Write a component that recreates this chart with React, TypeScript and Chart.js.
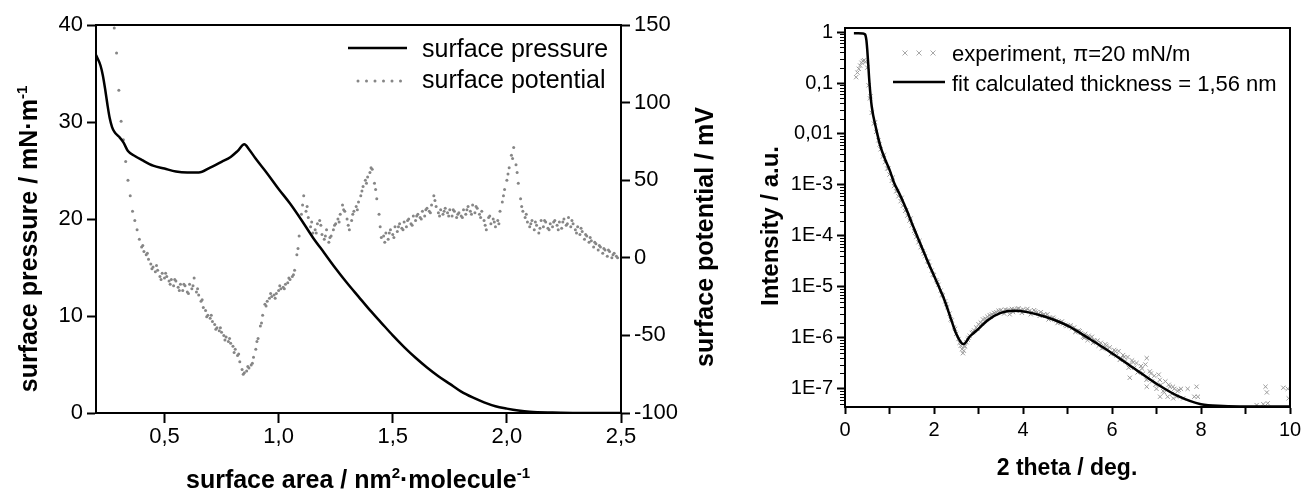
import React, { useEffect, useRef } from "react";
import { Chart, registerables } from "chart.js";

Chart.register(...registerables);

const FONT = "'Liberation Sans', Arial, Helvetica, sans-serif";

// ---------------- Left chart: isotherm ----------------
const pressureArea = [
  0.2, 0.22, 0.23, 0.24, 0.25, 0.26, 0.27, 0.28, 0.3, 0.32, 0.34, 0.37, 0.4,
  0.45, 0.5, 0.55, 0.6, 0.65, 0.7, 0.75, 0.79, 0.82, 0.85, 0.87, 0.9, 0.95,
  1.0, 1.05, 1.1, 1.15, 1.2, 1.25, 1.3, 1.35, 1.4, 1.45, 1.5,
  1.55, 1.6, 1.65, 1.7, 1.75, 1.8, 1.85, 1.9, 1.95, 2.0, 2.05, 2.1,
  2.2, 2.3, 2.4, 2.5,
];
const pressurePi = [
  36.9, 35.8, 34.8, 33.4, 31.8, 30.4, 29.5, 29.0, 28.5, 27.9, 27.0, 26.5, 26.1,
  25.5, 25.2, 24.9, 24.8, 24.8, 25.3, 25.9, 26.4, 27.0, 27.7, 27.2, 26.2, 24.7,
  23.1, 21.6, 19.9, 18.1, 16.5, 14.9, 13.4, 12.0, 10.6, 9.3, 8.0,
  6.8, 5.7, 4.7, 3.8, 3.0, 2.2, 1.6, 1.1, 0.7, 0.45, 0.25, 0.12,
  0.04, 0.01, 0, 0,
];

const potentialArea = [
  0.28, 0.29, 0.3, 0.31, 0.32, 0.33, 0.34, 0.35, 0.36, 0.37,
  0.38, 0.39, 0.4, 0.41, 0.42, 0.43, 0.44, 0.45, 0.46, 0.47,
  0.48, 0.49, 0.5, 0.51, 0.52, 0.53, 0.54, 0.55, 0.56, 0.57,
  0.58, 0.59, 0.6, 0.61, 0.62, 0.63, 0.64, 0.65, 0.66, 0.67,
  0.68, 0.69, 0.7, 0.71, 0.72, 0.73, 0.74, 0.75, 0.76, 0.77,
  0.78, 0.79, 0.8, 0.81, 0.82, 0.83, 0.84, 0.85, 0.86, 0.87,
  0.88, 0.89, 0.9, 0.91, 0.92, 0.93, 0.94, 0.95, 0.96, 0.97,
  0.98, 0.99, 1.0, 1.01, 1.02, 1.03, 1.04, 1.05, 1.06, 1.07,
  1.08, 1.09, 1.1, 1.11, 1.12, 1.13, 1.14, 1.15, 1.16, 1.17,
  1.18, 1.19, 1.2, 1.21, 1.22, 1.23, 1.24, 1.25, 1.26, 1.27,
  1.28, 1.29, 1.3, 1.31, 1.32, 1.33, 1.34, 1.35, 1.36, 1.37,
  1.38, 1.39, 1.4, 1.41, 1.42, 1.43, 1.44, 1.45, 1.46, 1.47,
  1.48, 1.49, 1.5, 1.51, 1.52, 1.53, 1.54, 1.55, 1.56, 1.57,
  1.58, 1.59, 1.6, 1.61, 1.62, 1.63, 1.64, 1.65, 1.66, 1.67,
  1.68, 1.69, 1.7, 1.71, 1.72, 1.73, 1.74, 1.75, 1.76, 1.77,
  1.78, 1.79, 1.8, 1.81, 1.82, 1.83, 1.84, 1.85, 1.86, 1.87,
  1.88, 1.89, 1.9, 1.91, 1.92, 1.93, 1.94, 1.95, 1.96, 1.97,
  1.98, 1.99, 2.0, 2.01, 2.02, 2.03, 2.04, 2.05, 2.06, 2.07,
  2.08, 2.09, 2.1, 2.11, 2.12, 2.13, 2.14, 2.15, 2.16, 2.17,
  2.18, 2.19, 2.2, 2.21, 2.22, 2.23, 2.24, 2.25, 2.26, 2.27,
  2.28, 2.29, 2.3, 2.31, 2.32, 2.33, 2.34, 2.35, 2.36, 2.37,
  2.38, 2.39, 2.4, 2.41, 2.42, 2.43, 2.44, 2.45, 2.46, 2.47, 2.48,
];
const potentialMV = [
  148, 132, 108, 88, 76, 62, 50, 40, 30, 24,
  18, 12, 7, 4, 2, -1, -4, -6, -9, -8,
  -12, -10, -13, -12, -15, -14, -18, -15, -19, -17,
  -21, -18, -22, -17, -20, -13, -22, -24, -28, -32,
  -34, -37, -39, -41, -43, -45, -47, -48, -50, -51,
  -54, -55, -57, -59, -63, -67, -72, -74, -73, -71,
  -69, -64, -59, -52, -44, -37, -30, -28, -26, -25,
  -24, -23, -21, -20, -19, -17, -16, -14, -12, -8,
  2, 14, 28, 40, 30, 26, 20, 16, 18, 22,
  24, 15, 12, 18, 10, 14, 18, 22, 25, 28,
  34, 30, 25, 18, 24, 30, 33, 36, 40, 46,
  50, 52, 55, 57, 48, 38, 28, 13, 14, 16,
  12, 18, 15, 20, 17, 22, 19, 23, 20, 25,
  22, 27, 24, 28, 26, 30, 27, 32, 30, 34,
  40, 33, 29, 31, 28, 32, 29, 31, 27, 30,
  26, 29, 27, 31, 28, 33, 30, 34, 29, 32,
  28, 30, 24, 18, 26, 22, 25, 20, 24, 30,
  36, 44, 50, 58, 66, 71, 60, 48, 38, 30,
  26, 23, 20, 24, 18, 21, 16, 24, 20, 23,
  19, 22, 20, 24, 21, 23, 19, 25, 21, 26,
  20, 22, 18, 20, 15, 17, 12, 14, 10, 11,
  7, 9, 5, 7, 3, 5, 1, 4, 0, 3, 1,
];
// second pass of potential readings (between the first ones)
const potentialArea2 = [
  0.405, 0.425, 0.445, 0.465, 0.485, 0.505, 0.525, 0.545, 0.565, 0.585,
  0.605, 0.625, 0.645, 0.665, 0.685, 0.705, 0.725, 0.745, 0.765, 0.785,
  0.805, 0.825, 0.845, 0.865, 0.885, 0.905, 0.925, 0.945, 0.965, 0.985,
  1.005, 1.025, 1.045, 1.065, 1.085, 1.105, 1.125, 1.145, 1.165, 1.185,
  1.205, 1.225, 1.245, 1.265, 1.285, 1.305, 1.325, 1.345, 1.365, 1.385,
  1.405, 1.425, 1.445, 1.465, 1.485, 1.505, 1.525, 1.545, 1.565, 1.585,
  1.605, 1.625, 1.645, 1.665, 1.685, 1.705, 1.725, 1.745, 1.765, 1.785,
  1.805, 1.825, 1.845, 1.865, 1.885, 1.905, 1.925, 1.945, 1.965, 1.985,
  2.005, 2.025, 2.045, 2.065, 2.085, 2.105, 2.125, 2.145, 2.165, 2.185,
  2.205, 2.225, 2.245, 2.265, 2.285, 2.305, 2.325, 2.345, 2.365, 2.385,
  2.405, 2.425, 2.445, 2.465, 2.485,
];
const potentialMV2 = [
  8, 3, -7, -5, -14, -10, -17, -14, -21, -17,
  -23, -18, -20, -27, -38, -37, -46, -45, -53, -52,
  -61, -62, -75, -70, -68, -54, -42, -31, -23, -26,
  -18, -20, -13, -11, 6, 34, 33, 23, 16, 21,
  14, 13, 21, 23, 31, 21, 28, 31, 43, 48,
  58, 44, 20, 10, 16, 13, 20, 18, 24, 21,
  27, 25, 31, 29, 37, 27, 30, 27, 31, 28,
  26, 31, 28, 33, 26, 21, 27, 23, 22, 40,
  54, 64, 55, 33, 28, 22, 23, 19, 24, 18,
  23, 18, 23, 22, 24, 16, 19, 15, 13, 10,
  8, 6, 5, 2, 0,
];

const areaTickValues = [0.5, 1.0, 1.5, 2.0, 2.5];
const areaTickLabels = ["0,5", "1,0", "1,5", "2,0", "2,5"];
const pressureTickValues = [0, 10, 20, 30, 40];
const potentialTickValues = [-100, -50, 0, 50, 100, 150];

// ---------------- Right chart: reflectivity ----------------
const fitAngle = [
  0.2, 0.3, 0.4, 0.45, 0.48, 0.5, 0.52, 0.55, 0.6, 0.7, 0.8, 0.9, 1.0,
  1.1, 1.2, 1.3, 1.4, 1.5, 1.6, 1.7, 1.8, 1.9, 2.0, 2.1, 2.2, 2.3, 2.4,
  2.5, 2.6, 2.65, 2.7, 2.8, 2.9, 3.0, 3.2, 3.5, 3.8, 4.1, 4.5, 5.0, 5.5,
  6.0, 6.5, 7.0, 7.5, 8.0, 8.5, 9.0, 10.0,
];
const fitIntensity = [
  0.95, 0.95, 0.94, 0.9, 0.7, 0.45, 0.25, 0.1, 0.035, 0.0126, 0.0056, 0.0032, 0.002,
  1.12e-3, 7.4e-4, 4.8e-4, 3.0e-4, 1.8e-4, 1.1e-4, 6.8e-5, 4.2e-5, 2.6e-5, 1.66e-5, 1.05e-5, 6.6e-6, 3.8e-6, 2.1e-6,
  1.2e-6, 8.3e-7, 7.6e-7, 7.9e-7, 1.05e-6, 1.26e-6, 1.5e-6, 2.2e-6, 3.1e-6, 3.4e-6, 3.2e-6, 2.6e-6, 1.74e-6, 9.5e-7,
  5.0e-7, 2.5e-7, 1.26e-7, 7.1e-8, 5.0e-8, 4.6e-8, 4.5e-8, 4.5e-8,
];

const expAngle = [
  0.25, 0.28, 0.31, 0.34, 0.37, 0.4, 0.43, 0.46, 0.5, 0.53, 0.56, 0.6,
  0.65, 0.7, 0.75, 0.8, 0.85, 0.9, 0.95, 1.0, 1.05, 1.1, 1.15, 1.2,
  1.25, 1.3, 1.35, 1.4, 1.45, 1.5, 1.55, 1.6, 1.65, 1.7, 1.75, 1.8,
  1.85, 1.9, 1.95, 2.0, 2.05, 2.1, 2.15, 2.2, 2.25, 2.3, 2.35, 2.4,
  2.45, 2.5, 2.55, 2.6, 2.63, 2.65, 2.67, 2.7, 2.73, 2.76, 2.8, 2.85,
  2.9, 2.95, 3.0, 3.05, 3.1, 3.15, 3.2, 3.25, 3.3, 3.35, 3.4, 3.45,
  3.5, 3.55, 3.6, 3.65, 3.7, 3.75, 3.8, 3.85, 3.9, 3.95, 4.0, 4.05,
  4.1, 4.15, 4.2, 4.25, 4.3, 4.35, 4.4, 4.45, 4.5, 4.55, 4.6, 4.65,
  4.7, 4.75, 4.8, 4.85, 4.9, 4.95, 5.0, 5.05, 5.1, 5.15, 5.2, 5.25,
  5.3, 5.35, 5.4, 5.45, 5.5, 5.55, 5.6, 5.65, 5.7, 5.75, 5.8, 5.85,
  5.9, 5.95, 6.0, 6.05, 6.1, 6.15, 6.2, 6.25, 6.3, 6.35, 6.4, 6.45,
  6.5, 6.55, 6.6, 6.65, 6.7, 6.75, 6.8, 6.85, 6.9, 6.95, 7.0, 7.05,
  7.1, 7.15, 7.2, 7.25, 7.3, 7.35, 7.4, 7.45, 7.5, 7.55, 7.6, 7.7,
  7.85, 6.4, 6.78, 6.78, 7.08, 7.37, 7.9, 7.93,
  9.25, 9.4, 9.5, 9.45, 9.48, 9.85, 9.95, 9.97,
];
const expIntensity = [
  0.13, 0.16, 0.19, 0.22, 0.25, 0.27, 0.28, 0.26, 0.2, 0.09, 0.05, 0.026,
  0.016, 0.011, 0.0075, 0.005, 0.0036, 0.0028, 0.0021, 0.0016, 0.0012, 9.5e-4, 7.5e-4, 6.0e-4,
  4.8e-4, 3.9e-4, 3.1e-4, 2.5e-4, 2.0e-4, 1.6e-4, 1.25e-4, 9.5e-5, 7.5e-5, 6.0e-5, 5.0e-5, 4.0e-5,
  3.2e-5, 2.6e-5, 2.1e-5, 1.7e-5, 1.35e-5, 1.1e-5, 8.5e-6, 6.8e-6, 5.2e-6, 4.0e-6, 3.0e-6, 2.2e-6,
  1.6e-6, 1.2e-6, 9.5e-7, 7.0e-7, 6.0e-7, 5.0e-7, 5.6e-7, 6.8e-7, 8.2e-7, 9.2e-7, 1.1e-6, 1.25e-6,
  1.4e-6, 1.6e-6, 1.85e-6, 2.0e-6, 2.3e-6, 2.4e-6, 2.6e-6, 2.8e-6, 2.9e-6, 3.1e-6, 3.2e-6, 3.4e-6,
  3.5e-6, 3.3e-6, 3.6e-6, 3.5e-6, 2.9e-6, 3.7e-6, 3.6e-6, 3.4e-6, 3.8e-6, 3.5e-6, 3.6e-6, 3.3e-6,
  3.7e-6, 3.4e-6, 3.2e-6, 3.5e-6, 3.1e-6, 3.0e-6, 3.2e-6, 2.8e-6, 2.7e-6, 2.9e-6, 2.5e-6, 2.4e-6,
  2.3e-6, 2.2e-6, 2.1e-6, 2.0e-6, 1.9e-6, 1.8e-6, 1.75e-6, 1.7e-6, 1.55e-6, 1.6e-6, 1.35e-6, 1.4e-6,
  1.25e-6, 1.05e-6, 1.2e-6, 9.0e-7, 1.0e-6, 1.05e-6, 9.0e-7, 8.5e-7, 7.0e-7, 8.0e-7, 6.5e-7, 7.5e-7,
  6.0e-7, 6.5e-7, 5.0e-7, 5.8e-7, 4.5e-7, 5.5e-7, 4.0e-7, 4.6e-7, 3.5e-7, 4.2e-7, 3.0e-7, 3.6e-7,
  2.6e-7, 3.2e-7, 2.2e-7, 2.8e-7, 2.0e-7, 3.0e-7, 1.6e-7, 2.2e-7, 1.4e-7, 1.8e-7, 1.0e-7, 1.9e-7,
  1.2e-7, 9.0e-8, 1.4e-7, 7.0e-8, 1.1e-7, 8.0e-8, 1.0e-7, 7.0e-8, 9.5e-8, 1.0e-7, 6.5e-8, 1.0e-7,
  7.0e-8, 1.65e-7, 1.1e-7, 4.0e-7, 7.0e-8, 1.1e-7, 1.1e-7, 7.0e-8,
  4.8e-8, 5.0e-8, 5.2e-8, 1.1e-7, 8.5e-8, 1.05e-7, 1.0e-7, 6.5e-8,
];
// second pass of experimental readings (between the first ones)
const expAngle2 = [
  0.575, 0.675, 0.775, 0.875, 0.975, 1.075, 1.175, 1.275, 1.375, 1.475,
  1.575, 1.675, 1.775, 1.875, 1.975, 2.075, 2.175, 2.275, 2.375, 2.475,
  2.575, 2.675, 2.775, 2.875, 2.975, 3.075, 3.175, 3.275, 3.375, 3.475,
  3.575, 3.675, 3.775, 3.875, 3.975, 4.075, 4.175, 4.275, 4.375, 4.475,
  4.575, 4.675, 4.775, 4.875, 4.975, 5.075, 5.175, 5.275, 5.375, 5.475,
  5.575, 5.675, 5.775, 5.875, 5.975, 6.075, 6.175, 6.275, 6.375, 6.475,
  6.575, 6.675, 6.775, 6.875, 6.975, 7.075, 7.175, 7.275, 7.375, 7.475,
];
const expIntensity2 = [
  0.055, 0.017, 0.0062, 0.0039, 0.0021, 0.0014, 7.6e-4, 5.6e-4, 3.2e-4, 2.2e-4,
  1.15e-4, 8.0e-5, 4.5e-5, 3.1e-5, 1.75e-5, 1.25e-5, 7.0e-6, 4.6e-6, 2.3e-6, 1.5e-6,
  8.0e-7, 7.0e-7, 1.0e-6, 1.3e-6, 1.5e-6, 1.9e-6, 2.3e-6, 2.6e-6, 3.0e-6, 3.3e-6,
  3.0e-6, 3.5e-6, 3.2e-6, 3.7e-6, 3.1e-6, 3.5e-6, 2.9e-6, 3.3e-6, 2.7e-6, 2.9e-6,
  2.3e-6, 2.5e-6, 1.95e-6, 2.1e-6, 1.7e-6, 1.75e-6, 1.3e-6, 1.35e-6, 1.0e-6, 1.1e-6,
  8.0e-7, 8.8e-7, 6.2e-7, 7.0e-7, 4.8e-7, 5.4e-7, 3.7e-7, 4.2e-7, 2.6e-7, 3.3e-7,
  2.1e-7, 2.5e-7, 1.5e-7, 2.0e-7, 1.2e-7, 1.5e-7, 8.5e-8, 1.2e-7, 6.5e-8, 9.0e-8,
];

const angleTickValues = [0, 1, 2, 3, 4, 5, 6, 7, 8, 9, 10];
const angleTickLabels = ["0", "", "2", "", "4", "", "6", "", "8", "", "10"];
const intensityTickValues = [1e-7, 1e-6, 1e-5, 1e-4, 1e-3, 0.01, 0.1, 1];
const intensityTickLabels = ["1E-7", "1E-6", "1E-5", "1E-4", "1E-3", "0,01", "0,1", "1"];

// ---------------- helpers ----------------
type Part = { t: string; sup?: boolean };

function drawRich(
  ctx: CanvasRenderingContext2D,
  parts: Part[],
  x: number,
  y: number,
  size: number,
  weight: string,
  rotate: boolean
) {
  ctx.save();
  ctx.translate(x, y);
  if (rotate) ctx.rotate(-Math.PI / 2);
  const main = `${weight} ${size}px ${FONT}`;
  const sup = `${weight} ${Math.round(size * 0.6)}px ${FONT}`;
  let total = 0;
  for (const p of parts) {
    ctx.font = p.sup ? sup : main;
    total += ctx.measureText(p.t).width;
  }
  let cx = -total / 2;
  ctx.fillStyle = "#000";
  ctx.textAlign = "left";
  ctx.textBaseline = "alphabetic";
  for (const p of parts) {
    ctx.font = p.sup ? sup : main;
    ctx.fillText(p.t, cx, p.sup ? -size * 0.42 : 0);
    cx += ctx.measureText(p.t).width;
  }
  ctx.restore();
}

function axisCommon(size: number, tickLength: number, padding: number) {
  return {
    ticks: {
      font: { family: FONT, size },
      color: "#000",
      padding,
      maxRotation: 0,
      autoSkip: false,
    },
    grid: {
      drawOnChartArea: false,
      drawTicks: true,
      tickLength,
      tickColor: "#000",
      tickWidth: 2,
    },
    border: { display: true, color: "#000", width: 2 },
  };
}

const zip = (xs: number[], ys: number[]) => xs.map((x, i) => ({ x, y: ys[i] }));

// ---------------- Left chart ----------------
function LeftChart() {
  const ref = useRef<HTMLCanvasElement | null>(null);
  useEffect(() => {
    if (!ref.current) return;
    const frame = {
      id: "leftFrame",
      afterDraw(chart: any) {
        const { ctx, chartArea: a } = chart;
        ctx.save();
        ctx.strokeStyle = "#000";
        ctx.lineWidth = 2;
        ctx.beginPath();
        ctx.moveTo(a.left - 1, a.top);
        ctx.lineTo(a.right + 1, a.top);
        ctx.stroke();
        // legend
        ctx.lineWidth = 2.5;
        ctx.beginPath();
        ctx.moveTo(348, 48);
        ctx.lineTo(407, 48);
        ctx.stroke();
        ctx.fillStyle = "#868686";
        for (const dx of [358, 366.5, 375, 383.5, 392, 400.5]) {
          ctx.beginPath();
          ctx.arc(dx, 81, 1.5, 0, Math.PI * 2);
          ctx.fill();
        }
        ctx.fillStyle = "#000";
        ctx.font = `25px ${FONT}`;
        ctx.textAlign = "left";
        ctx.textBaseline = "alphabetic";
        ctx.fillText("surface pressure", 422, 57);
        ctx.fillText("surface potential", 422, 88);
        // axis titles
        drawRich(ctx, [{ t: "surface pressure / mN·m" }, { t: "-1", sup: true }], 37, 239, 25, "bold", true);
        drawRich(ctx, [{ t: "surface potential / mV" }], 713, 237, 25, "bold", true);
        drawRich(
          ctx,
          [{ t: "surface area / nm" }, { t: "2", sup: true }, { t: "·molecule" }, { t: "-1", sup: true }],
          358,
          488,
          25,
          "bold",
          false
        );
        ctx.restore();
      },
    };
    const xCommon = axisCommon(22, 10, 1);
    const yCommon = axisCommon(22, 9, 4);
    const chart = new Chart(ref.current, {
      type: "scatter",
      data: {
        datasets: [
          {
            label: "surface pressure",
            data: zip(pressureArea, pressurePi),
            yAxisID: "y",
            showLine: true,
            borderColor: "#000",
            borderWidth: 2.5,
            pointRadius: 0,
            cubicInterpolationMode: "monotone",
          },
          {
            label: "surface potential",
            data: [...zip(potentialArea, potentialMV), ...zip(potentialArea2, potentialMV2)],
            yAxisID: "y2",
            showLine: false,
            pointRadius: 1.5,
            pointBackgroundColor: "#868686",
            pointBorderWidth: 0,
          },
        ],
      },
      options: {
        responsive: false,
        animation: false,
        layout: { padding: { top: 25, left: 0, right: 0, bottom: 0 } },
        plugins: { legend: { display: false }, tooltip: { enabled: false } },
        scales: {
          x: {
            type: "linear",
            position: "bottom",
            min: 0.2,
            max: 2.5,
            afterBuildTicks: (s: any) => {
              s.ticks = areaTickValues.map((v) => ({ value: v }));
            },
            afterFit: (s: any) => {
              s.height = 78;
            },
            ...xCommon,
            ticks: { ...xCommon.ticks, callback: (_v: any, i: number) => areaTickLabels[i] },
          },
          y: {
            type: "linear",
            position: "left",
            min: 0,
            max: 40,
            afterBuildTicks: (s: any) => {
              s.ticks = pressureTickValues.map((v) => ({ value: v }));
            },
            afterFit: (s: any) => {
              s.width = 96;
            },
            ...yCommon,
            ticks: { ...yCommon.ticks, callback: (v: any) => String(v) },
          },
          y2: {
            type: "linear",
            position: "right",
            min: -100,
            max: 150,
            afterBuildTicks: (s: any) => {
              s.ticks = potentialTickValues.map((v) => ({ value: v }));
            },
            afterFit: (s: any) => {
              s.width = 109;
            },
            ...yCommon,
            ticks: { ...yCommon.ticks, callback: (v: any) => String(v) },
          },
        },
      } as any,
      plugins: [frame],
    });
    return () => chart.destroy();
  }, []);
  return <canvas ref={ref} width={730} height={491} style={{ position: "absolute", left: 0, top: 0 }} />;
}

// ---------------- Right chart ----------------
function RightChart() {
  const ref = useRef<HTMLCanvasElement | null>(null);
  useEffect(() => {
    if (!ref.current) return;
    const drawCross = (ctx: CanvasRenderingContext2D, x: number, y: number, r: number) => {
      ctx.beginPath();
      ctx.moveTo(x - r, y - r);
      ctx.lineTo(x + r, y + r);
      ctx.moveTo(x - r, y + r);
      ctx.lineTo(x + r, y - r);
      ctx.stroke();
    };
    const frame = {
      id: "rightFrame",
      afterDraw(chart: any) {
        const { ctx, chartArea: a } = chart;
        const ys = chart.scales.y;
        ctx.save();
        ctx.strokeStyle = "#000";
        ctx.lineWidth = 2;
        ctx.beginPath();
        ctx.moveTo(a.left - 1, a.top);
        ctx.lineTo(a.right, a.top);
        ctx.lineTo(a.right, a.bottom + 1);
        ctx.stroke();
        // minor log ticks
        ctx.lineWidth = 1;
        for (let e = -8; e <= 0; e++) {
          for (let m = 2; m <= 9; m++) {
            const v = m * Math.pow(10, e);
            if (v < ys.min || v > ys.max) continue;
            const py = Math.round(ys.getPixelForValue(v)) + 0.5;
            ctx.beginPath();
            ctx.moveTo(a.left - 5, py);
            ctx.lineTo(a.left, py);
            ctx.stroke();
          }
        }
        // legend
        ctx.strokeStyle = "#a8a8a8";
        ctx.lineWidth = 1;
        for (const cx of [175, 189, 203]) drawCross(ctx, cx, 53, 2.5);
        ctx.strokeStyle = "#000";
        ctx.lineWidth = 2.5;
        ctx.beginPath();
        ctx.moveTo(163, 82);
        ctx.lineTo(215, 82);
        ctx.stroke();
        ctx.fillStyle = "#000";
        ctx.font = `22px ${FONT}`;
        ctx.textAlign = "left";
        ctx.textBaseline = "alphabetic";
        ctx.fillText("experiment, π=20 mN/m", 222, 61);
        ctx.fillText("fit calculated thickness = 1,56 nm", 222, 91);
        // axis titles
        drawRich(ctx, [{ t: "Intensity / a.u." }], 48, 226, 24, "bold", true);
        drawRich(ctx, [{ t: "2 theta / deg." }], 337, 475, 23, "bold", false);
        ctx.restore();
      },
    };
    const xCommon = axisCommon(20, 7, 4);
    const yCommon = axisCommon(20, 8, 4);
    const chart = new Chart(ref.current, {
      type: "scatter",
      data: {
        datasets: [
          {
            label: "fit calculated thickness = 1,56 nm",
            data: zip(fitAngle, fitIntensity),
            showLine: true,
            borderColor: "#000",
            borderWidth: 2.5,
            pointRadius: 0,
            cubicInterpolationMode: "monotone",
          },
          {
            label: "experiment, π=20 mN/m",
            data: [...zip(expAngle, expIntensity), ...zip(expAngle2, expIntensity2)],
            showLine: false,
            pointStyle: "crossRot",
            pointRadius: 3,
            borderColor: "#9a9a9a",
            pointBorderColor: "#9a9a9a",
            pointBorderWidth: 1,
          },
        ],
      },
      options: {
        responsive: false,
        animation: false,
        layout: { padding: { top: 28, left: 0, right: 16, bottom: 0 } },
        plugins: { legend: { display: false }, tooltip: { enabled: false } },
        scales: {
          x: {
            type: "linear",
            position: "bottom",
            min: 0,
            max: 10,
            afterBuildTicks: (s: any) => {
              s.ticks = angleTickValues.map((v) => ({ value: v }));
            },
            afterFit: (s: any) => {
              s.height = 84;
            },
            ...xCommon,
            ticks: { ...xCommon.ticks, callback: (_v: any, i: number) => angleTickLabels[i] },
          },
          y: {
            type: "logarithmic",
            position: "left",
            min: 4.4e-8,
            max: 1.2,
            afterBuildTicks: (s: any) => {
              s.ticks = intensityTickValues.map((v) => ({ value: v }));
            },
            afterFit: (s: any) => {
              s.width = 115;
            },
            ...yCommon,
            ticks: { ...yCommon.ticks, callback: (_v: any, i: number) => intensityTickLabels[i] },
          },
        },
      } as any,
      plugins: [frame],
    });
    return () => chart.destroy();
  }, []);
  return <canvas ref={ref} width={576} height={491} style={{ position: "absolute", left: 730, top: 0 }} />;
}

export default function App() {
  return (
    <div
      style={{
        position: "absolute",
        left: 0,
        top: 0,
        width: 1306,
        height: 491,
        background: "#fff",
        overflow: "hidden",
      }}
    >
      <LeftChart />
      <RightChart />
    </div>
  );
}
